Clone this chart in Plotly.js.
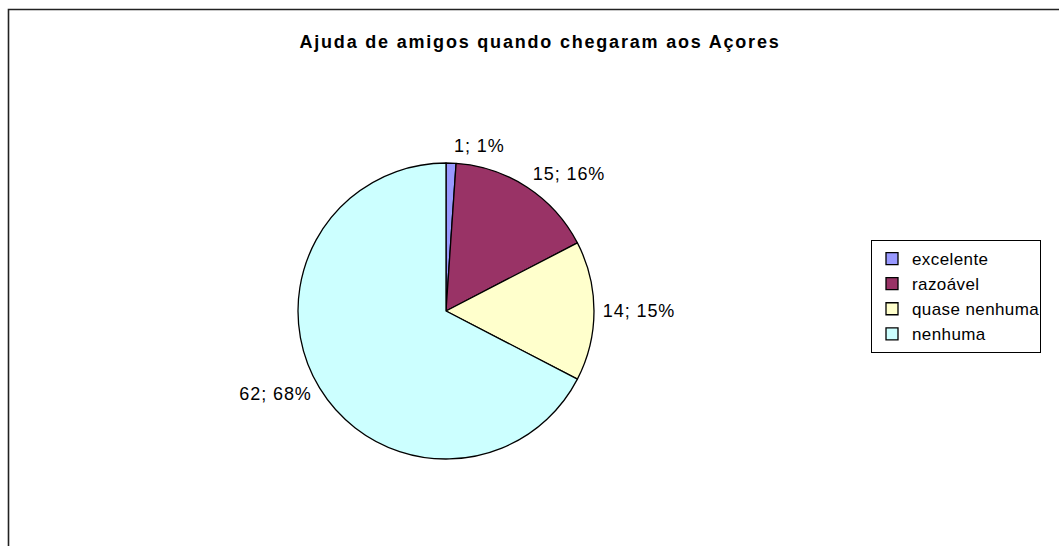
<!DOCTYPE html>
<html>
<head>
<meta charset="utf-8">
<script src="https://cdn.plot.ly/plotly-3.0.1.min.js"></script>
<style>
  html, body { margin: 0; padding: 0; background: #ffffff; }
  #chart { width: 1059px; height: 546px; }
  #chart .slicetext { letter-spacing: 0.9px; }
  #chart .legendtext { letter-spacing: 0.4px; }
  #chart .gtitle { letter-spacing: 1.8px; }
</style>
</head>
<body>
<div id="chart"></div>
<script>
// Data
const titleText = "Ajuda de amigos quando chegaram aos Açores";
const categories = ["excelente", "razoável", "quase nenhuma", "nenhuma"];
const counts = [1, 15, 14, 62];
const percentLabels = ["1%", "16%", "15%", "68%"];
const sliceColors = ["#9999FF", "#993366", "#FFFFCC", "#CCFFFF"];

const W = 1059, H = 546;
const cx = 446, cy = 311, R = 148;
const labelR = R + 7; // labels sit a little further out than the pie edge

function domainFor(r) {
  return {
    x: [(cx - r) / W, (cx + r) / W],
    y: [(H - cy - r) / H, (H - cy + r) / H]
  };
}

const pieTrace = {
  type: "pie",
  labels: categories,
  values: counts,
  textinfo: "none",
  sort: false,
  direction: "clockwise",
  rotation: 0,
  marker: { colors: sliceColors, line: { color: "#000000", width: 1.3 } },
  domain: domainFor(R),
  showlegend: true,
  hoverinfo: "label+value+percent"
};

// Same slices, transparent, only used to carry the outside data labels
const labelTrace = {
  type: "pie",
  labels: categories,
  values: counts,
  text: percentLabels,
  texttemplate: "%{value}; %{text}",
  textposition: "outside",
  textfont: { family: "Liberation Sans, Arial, sans-serif", size: 18, color: "#000000" },
  sort: false,
  direction: "clockwise",
  rotation: 0,
  marker: { colors: categories.map(() => "rgba(0,0,0,0)"), line: { width: 0 } },
  domain: domainFor(labelR),
  showlegend: false,
  hoverinfo: "skip"
};

const layout = {
  width: W,
  height: H,
  margin: { l: 0, r: 0, t: 0, b: 0, pad: 0 },
  paper_bgcolor: "#ffffff",
  font: { family: "Liberation Sans, Arial, sans-serif", size: 17, color: "#000000" },
  title: {
    text: "<b>" + titleText + "</b>",
    font: { family: "Liberation Sans, Arial, sans-serif", size: 18, color: "#000000" },
    x: 540 / W,
    xanchor: "center",
    y: 1 - 42 / H,
    yanchor: "middle",
    xref: "paper",
    yref: "paper"
  },
  legend: {
    x: 871 / W,
    xanchor: "left",
    y: 1 - 240 / H,
    yanchor: "top",
    bgcolor: "#ffffff",
    bordercolor: "#000000",
    borderwidth: 1,
    font: { family: "Liberation Sans, Arial, sans-serif", size: 17, color: "#000000" },
    traceorder: "normal"
  },
  shapes: [{
    type: "rect",
    xref: "paper", yref: "paper",
    x0: 8.5 / W, x1: 1.05,
    y0: -0.05, y1: 1 - 9.5 / H,
    line: { color: "#222222", width: 1.6 },
    fillcolor: "rgba(0,0,0,0)",
    layer: "below"
  }],
  showlegend: true
};

Plotly.newPlot("chart", [pieTrace, labelTrace], layout, { displayModeBar: false, staticPlot: true });
</script>
</body>
</html>
